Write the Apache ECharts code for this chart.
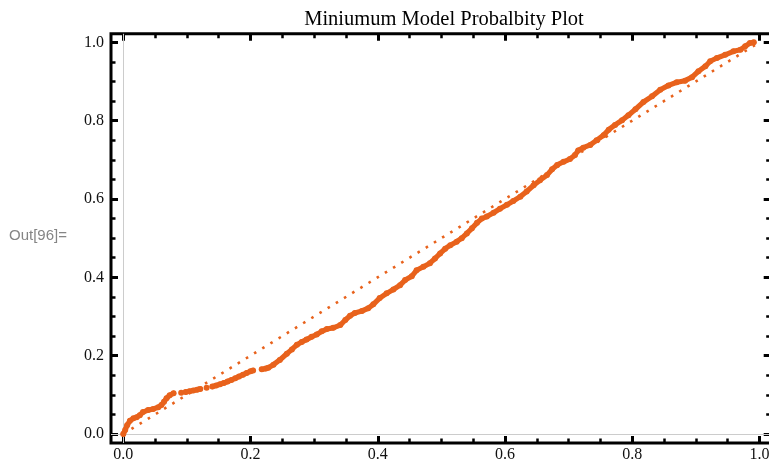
<!DOCTYPE html>
<html>
<head>
<meta charset="utf-8">
<script src="https://cdn.jsdelivr.net/npm/echarts@6/dist/echarts.min.js"></script>
<style>
  html, body { margin: 0; padding: 0; background: #ffffff; overflow: hidden; }
  #chart { width: 769px; height: 466px; }
</style>
</head>
<body>
<div id="chart"></div>
<script>
// ---- text ----
const plotTitle = 'Miniumum Model Probalbity Plot';
const cellLabel = 'Out[96]=';

// ---- tick positions (same on both axes) ----
const majorTicks = [0, 0.2, 0.4, 0.6, 0.8, 1.0];
const minorTicks = [0.05, 0.1, 0.15, 0.25, 0.3, 0.35, 0.45, 0.5, 0.55,
                    0.65, 0.7, 0.75, 0.85, 0.9, 0.95];

// ---- plot range (frame includes a little padding around [0,1]) ----
const xRange = [-0.0193, 1.0176];
const yRange = [-0.023, 1.0217];

// ---- reference diagonal ----
const referenceLine = [[0, 0], [1, 1]];

// ---- probability plot points: theoretical CDF vs empirical CDF ----
// null entries mark places where the sample leaves a visible gap
const probX = [
  0, 0.003, 0.006, 0.0105, 0.016, 0.021, 0.026, 0.031, 0.039, 0.047, 0.055, 0.060,
  0.064, 0.068, 0.073, 0.079, null,
  0.091, null,
  0.098, 0.104, 0.110, 0.116, 0.121, null,
  0.131, null,
  0.140, 0.146, 0.152, 0.158, 0.164, 0.170, 0.176, 0.182, 0.188, 0.194, 0.200, 0.204, null,
  0.2176, 0.224, 0.228, 0.236, 0.246, 0.257, 0.265, 0.273, 0.2805, 0.288, 0.296, 0.304,
  0.312, 0.320, 0.330, 0.341, 0.349, 0.3565, 0.364, 0.375, 0.385, 0.393, 0.403, 0.414,
  0.4245, 0.435, 0.443, 0.4535, 0.461, 0.4717, 0.482, 0.490, 0.498, 0.506, 0.514, 0.524,
  0.532, 0.540, 0.548, 0.556, 0.5635, 0.5714, 0.582, 0.592, 0.603, 0.613, 0.624, 0.634,
  0.645, 0.655, 0.666, 0.674, 0.682, 0.692, 0.702, 0.710, 0.715, 0.723, 0.734, 0.744,
  0.755, 0.763, 0.773, 0.784, 0.794, 0.805, 0.8176, 0.831, 0.844, 0.857, 0.870, 0.883,
  0.894, 0.904, 0.915, 0.9225, 0.933, 0.946, 0.959, 0.970, 0.9775, 0.985, 0.991
];
const probY = [
  0, 0.010, 0.022, 0.034, 0.040, 0.043, 0.048, 0.056, 0.061, 0.064, 0.068, 0.074,
  0.082, 0.091, 0.099, 0.104, null,
  0.105, null,
  0.107, 0.109, 0.111, 0.113, 0.115, null,
  0.118, null,
  0.121, 0.124, 0.127, 0.130, 0.134, 0.138, 0.142, 0.147, 0.151, 0.156, 0.160, 0.162, null,
  0.165, 0.167, 0.169, 0.177, 0.189, 0.205, 0.216, 0.228, 0.235, 0.241, 0.248, 0.254,
  0.262, 0.268, 0.271, 0.278, 0.291, 0.302, 0.309, 0.314, 0.321, 0.331, 0.347, 0.359,
  0.369, 0.380, 0.393, 0.403, 0.418, 0.427, 0.436, 0.448, 0.461, 0.473, 0.482, 0.491,
  0.500, 0.512, 0.525, 0.539, 0.550, 0.555, 0.565, 0.575, 0.585, 0.595, 0.606, 0.619,
  0.635, 0.648, 0.661, 0.676, 0.687, 0.695, 0.702, 0.712, 0.724, 0.731, 0.738, 0.750,
  0.763, 0.777, 0.789, 0.801, 0.814, 0.829, 0.8476, 0.862, 0.879, 0.890, 0.898, 0.902,
  0.911, 0.926, 0.939, 0.9515, 0.960, 0.968, 0.977, 0.981, 0.990, 0.998, 1.0
];

// ---- styling ----
const ORANGE = '#e8621c';
const FRAME = '#000000';
const LABEL_FONT = 'Liberation Serif';

const curveData = probX.map((x, i) => (x === null ? [null, null] : [x, probY[i]]));

function frameAxis(position, ticks, len, width, withLabels, range) {
  return {
    type: 'value',
    position: position,
    offset: 0,
    min: range[0],
    max: range[1],
    axisLine: { show: false, onZero: false },
    splitLine: { show: false },
    axisTick: {
      show: true,
      inside: true,
      length: len,
      customValues: ticks,
      lineStyle: { color: FRAME, width: width }
    },
    axisLabel: withLabels ? {
      show: true,
      customValues: ticks,
      formatter: v => v.toFixed(1),
      color: '#111111',
      fontFamily: LABEL_FONT,
      fontSize: 16,
      margin: (position === 'bottom' ? 4 : 7)
    } : { show: false }
  };
}

const chart = echarts.init(document.getElementById('chart'), null, { renderer: 'canvas' });

chart.setOption({
  animation: false,
  backgroundColor: '#ffffff',
  grid: {
    left: 111, top: 33.8, width: 659.7, height: 409.2,
    show: true, borderColor: FRAME, borderWidth: 3, backgroundColor: 'transparent',
    containLabel: false,
    outerBoundsMode: 'none'
  },
  xAxis: [
    frameAxis('bottom', majorTicks, 7, 3, true, xRange),
    frameAxis('bottom', minorTicks, 4.5, 2.5, false, xRange),
    frameAxis('top', majorTicks, 7, 3, false, xRange),
    frameAxis('top', minorTicks, 4.5, 2.5, false, xRange)
  ],
  yAxis: [
    frameAxis('left', majorTicks, 7, 3, true, yRange),
    frameAxis('left', minorTicks, 4.5, 2.5, false, yRange),
    frameAxis('right', majorTicks, 7, 3, false, yRange),
    frameAxis('right', minorTicks, 4.5, 2.5, false, yRange)
  ],
  graphic: [
    {
      type: 'text', x: 444, y: 20,
      style: { text: plotTitle, fill: '#000', font: "20.5px 'Liberation Serif'", align: 'center', verticalAlign: 'middle' }
    },
    {
      type: 'text', x: 9, y: 236,
      style: { text: cellLabel, fill: '#858585', font: "15px 'Liberation Sans'", align: 'left', verticalAlign: 'middle' }
    }
  ],
  series: [
    {
      // axes through the origin plus the y = x reference
      type: 'line',
      xAxisIndex: 0, yAxisIndex: 0,
      data: referenceLine,
      showSymbol: false,
      z: 2,
      lineStyle: { color: ORANGE, width: 2.6, type: [2.6, 7], cap: 'butt' },
      markLine: {
        silent: true,
        symbol: 'none',
        label: { show: false },
        lineStyle: { color: '#cccccc', width: 1, type: 'solid' },
        data: [{ xAxis: 0 }, { yAxis: 0 }],
        z: 1
      }
    },
    {
      type: 'line',
      xAxisIndex: 0, yAxisIndex: 0,
      data: curveData,
      connectNulls: false,
      showSymbol: true,
      symbol: 'circle',
      symbolSize: 6,
      itemStyle: { color: ORANGE },
      lineStyle: { color: ORANGE, width: 5.2, cap: 'round', join: 'round' },
      z: 3
    }
  ]
});
</script>
</body>
</html>
